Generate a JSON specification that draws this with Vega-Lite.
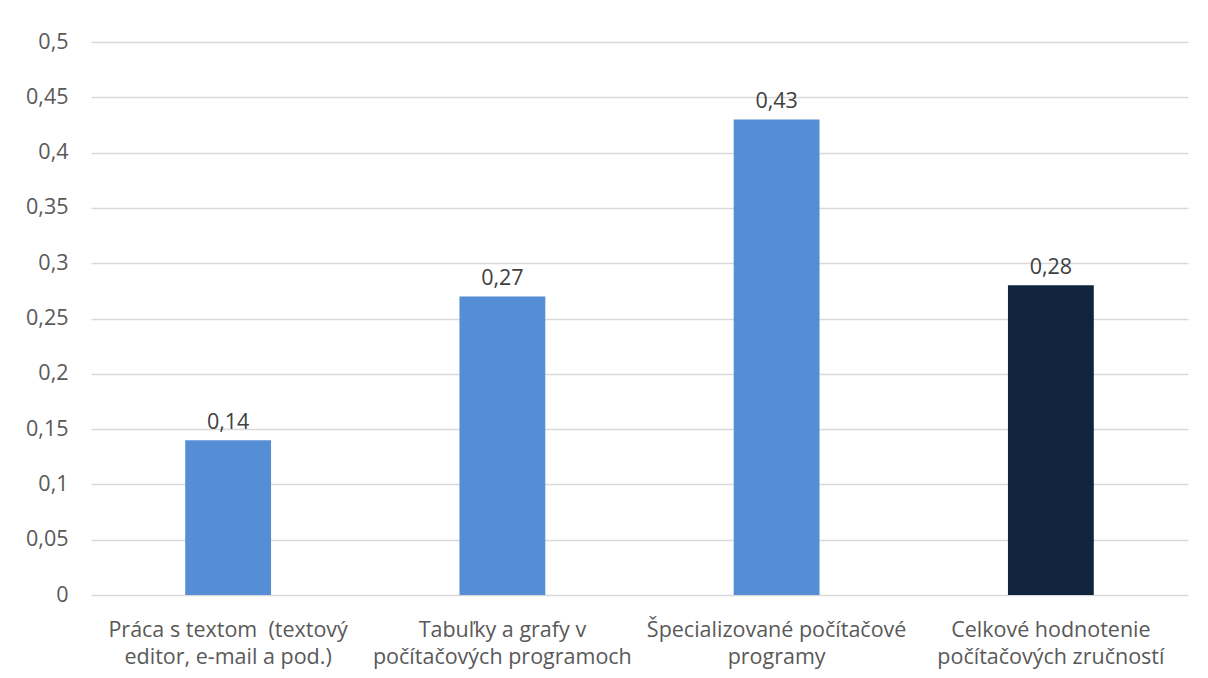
{
  "$schema": "https://vega.github.io/schema/vega-lite/v6.json",
  "width": 1097,
  "height": 553,
  "autosize": {"type": "none"},
  "padding": {"left": 91, "top": 42, "right": 20, "bottom": 83},
  "background": "white",
  "config": {
    "view": {"stroke": null},
    "font": "Open Sans",
    "locale": {"number": {"decimal": ",", "thousands": " ", "grouping": [3], "currency": ["", " €"]}}
  },
  "data": {
    "values": [
      {"kategoria": "Práca s textom\u00a0 (textový|editor, e-mail a pod.)", "hodnota": 0.14, "typ": "a"},
      {"kategoria": "Tabuľky a grafy v|počítačových programoch", "hodnota": 0.27, "typ": "a"},
      {"kategoria": "Špecializované počítačové|programy", "hodnota": 0.43, "typ": "a"},
      {"kategoria": "Celkové hodnotenie|počítačových zručností", "hodnota": 0.28, "typ": "b"}
    ]
  },
  "encoding": {
    "x": {
      "field": "kategoria",
      "type": "nominal",
      "sort": null,
      "scale": {"paddingInner": 0.687, "paddingOuter": 0.3435},
      "axis": {
        "title": null,
        "labelAngle": 0,
        "labelExpr": "split(datum.label, '|')",
        "labelFontSize": 21.5,
        "labelColor": "#595959",
        "labelLimit": 0,
        "labelLineHeight": 27.5,
        "labelPadding": 24,
        "labelBaseline": "top",
        "domain": false,
        "ticks": false
      }
    },
    "y": {
      "field": "hodnota",
      "type": "quantitative",
      "scale": {"domain": [0, 0.5]},
      "axis": {
        "title": null,
        "values": [0, 0.05, 0.1, 0.15, 0.2, 0.25, 0.3, 0.35, 0.4, 0.45, 0.5],
        "format": ".2~f",
        "labelFontSize": 21.5,
        "labelColor": "#595959",
        "labelPadding": 23,
        "domain": false,
        "ticks": false,
        "grid": true,
        "gridColor": "#D9D9D9",
        "gridWidth": 1.3
      }
    }
  },
  "layer": [
    {
      "mark": {"type": "bar"},
      "encoding": {
        "color": {
          "field": "typ",
          "type": "nominal",
          "scale": {"domain": ["a", "b"], "range": ["#558ED5", "#10243E"]},
          "legend": null
        }
      }
    },
    {
      "mark": {"type": "text", "baseline": "bottom", "dy": -6, "fontSize": 21.5, "color": "#404040"},
      "encoding": {
        "text": {"field": "hodnota", "type": "quantitative", "format": ".2f"}
      }
    }
  ]
}
